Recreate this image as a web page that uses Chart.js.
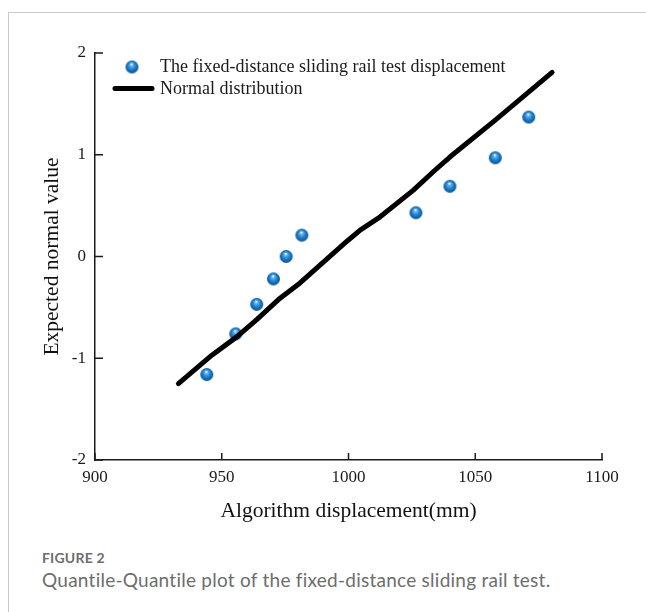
<!DOCTYPE html>
<html>
<head>
<meta charset="utf-8">
<script src="https://cdn.jsdelivr.net/npm/chart.js@4.4.1/dist/chart.umd.min.js"></script>
<style>
  html, body { margin: 0; padding: 0; background: #fff; }
  body { width: 646px; height: 612px; position: relative; overflow: hidden; }
  #frame { position: absolute; left: 8px; top: 12px; right: 0; bottom: 0; border-top: 1px solid #c9c9c9; border-left: 1px solid #c9c9c9; }
  #chart { position: absolute; left: 0; top: 0; }
  .fig-label { position: absolute; left: 42px; top: 549px; font-family: Lato, sans-serif; font-weight: 700; font-size: 14px; color: #6d6d6d; letter-spacing: 0.2px; }
  .fig-caption { position: absolute; left: 42px; top: 568px; font-family: Lato, sans-serif; font-size: 19px; letter-spacing: 0.25px; color: #6d6d6d; }
</style>
</head>
<body>
<div id="frame"></div>
<canvas id="chart" width="646" height="535"></canvas>
<div class="fig-label">FIGURE 2</div>
<div class="fig-caption">Quantile-Quantile plot of the fixed-distance sliding rail test.</div>
<script>
const sampleX = [944.1, 955.5, 963.8, 970.4, 975.4, 981.6, 1026.6, 1040.0, 1057.9, 1071.1];
const sampleY = [-1.16, -0.76, -0.47, -0.22, 0.00, 0.21, 0.43, 0.69, 0.97, 1.37];
const normalX = [932.9, 946.1, 955.9, 963.8, 973.0, 980.9, 999.4, 1004.6, 1012.5, 1025.5, 1034.2, 1040.1, 1057.9, 1080.3];
const normalY = [-1.25, -0.97, -0.79, -0.62, -0.41, -0.26, 0.15, 0.26, 0.39, 0.65, 0.85, 0.98, 1.34, 1.81];
const xTicks = [900, 950, 1000, 1050, 1100];
const yTicks = [-2, -1, 0, 1, 2];
const seriesNames = ["The fixed-distance sliding rail test displacement", "Normal distribution"];

const serif = "'Liberation Serif', 'Times New Roman', serif";
const ink = "#1a1a1a";

Chart.defaults.font.family = serif;
Chart.defaults.color = ink;

// little shaded blue sphere used for the sample points
function makeBall(r) {
  const size = r * 2 + 2;
  const c = document.createElement("canvas");
  c.width = size;
  c.height = size;
  const g = c.getContext("2d");
  const cx = size / 2, cy = size / 2;
  const grad = g.createRadialGradient(cx - 0.5, cy - r * 0.45, 0.4, cx, cy, r);
  grad.addColorStop(0, "#f2f9ff");
  grad.addColorStop(0.22, "#5aaee8");
  grad.addColorStop(0.65, "#1775c2");
  grad.addColorStop(1, "#0a5696");
  g.fillStyle = grad;
  g.beginPath();
  g.arc(cx, cy, r, 0, Math.PI * 2);
  g.fill();
  return c;
}
const ball = makeBall(6.5);

const inwardTicks = {
  id: "inwardTicks",
  afterDraw(chart) {
    const { ctx, chartArea, scales } = chart;
    ctx.save();
    ctx.strokeStyle = ink;
    ctx.lineWidth = 1.5;
    ctx.beginPath();
    yTicks.forEach(v => {
      const y = scales.y.getPixelForValue(v);
      ctx.moveTo(chartArea.left, y);
      ctx.lineTo(chartArea.left + 8, y);
    });
    xTicks.forEach(v => {
      const x = scales.x.getPixelForValue(v);
      ctx.moveTo(x, chartArea.bottom);
      ctx.lineTo(x, chartArea.bottom - 7);
    });
    ctx.stroke();
    ctx.restore();
  }
};

const innerLegend = {
  id: "innerLegend",
  afterDraw(chart) {
    const { ctx, chartArea } = chart;
    const x0 = chartArea.left;
    const y0 = chartArea.top;
    ctx.save();
    ctx.drawImage(ball, x0 + 37 - ball.width / 2, y0 + 14 - ball.height / 2);
    ctx.strokeStyle = "#000";
    ctx.lineWidth = 5;
    ctx.lineCap = "round";
    ctx.beginPath();
    ctx.moveTo(x0 + 20, y0 + 35.5);
    ctx.lineTo(x0 + 57, y0 + 35.5);
    ctx.stroke();
    ctx.fillStyle = ink;
    ctx.font = "18px " + serif;
    ctx.textBaseline = "middle";
    ctx.textAlign = "left";
    ctx.fillText(seriesNames[0], x0 + 65, y0 + 14);
    ctx.fillText(seriesNames[1], x0 + 65, y0 + 36);
    ctx.restore();
  }
};

new Chart(document.getElementById("chart"), {
  type: "scatter",
  data: {
    datasets: [
      {
        label: seriesNames[1],
        data: normalX.map((x, i) => ({ x, y: normalY[i] })),
        showLine: true,
        borderColor: "#000",
        borderWidth: 5,
        borderCapStyle: "round",
        borderJoinStyle: "round",
        pointRadius: 0,
        tension: 0
      },
      {
        label: seriesNames[0],
        data: sampleX.map((x, i) => ({ x, y: sampleY[i] })),
        pointStyle: ball,
        pointRadius: 6.5
      }
    ]
  },
  options: {
    responsive: false,
    animation: false,
    layout: { padding: { top: 53, right: 44, left: 0, bottom: 0 } },
    plugins: {
      legend: { display: false },
      tooltip: { enabled: false }
    },
    scales: {
      x: {
        type: "linear",
        min: 900,
        max: 1100,
        afterBuildTicks: s => { s.ticks = xTicks.map(v => ({ value: v })); },
        afterFit: s => { s.height = 75; },
        grid: { display: false, drawTicks: false },
        border: { display: true, color: ink, width: 1.5 },
        ticks: { padding: 7, color: ink, font: { family: serif, size: 17 }, callback: v => String(v) },
        title: {
          display: true,
          text: "Algorithm displacement(mm)",
          color: "#111",
          font: { family: serif, size: 21.5 },
          padding: { top: 0, bottom: 11 }
        }
      },
      y: {
        type: "linear",
        min: -2,
        max: 2,
        afterBuildTicks: s => { s.ticks = yTicks.map(v => ({ value: v })); },
        afterFit: s => { s.width = 95; },
        grid: { display: false, drawTicks: false },
        border: { display: true, color: ink, width: 1.5 },
        ticks: { padding: 9, color: ink, font: { family: serif, size: 17 }, callback: v => String(v) },
        title: {
          display: true,
          text: "Expected normal value",
          color: "#111",
          font: { family: serif, size: 21.5 },
          padding: { top: 39, bottom: 0 }
        }
      }
    }
  },
  plugins: [inwardTicks, innerLegend]
});
</script>
</body>
</html>
